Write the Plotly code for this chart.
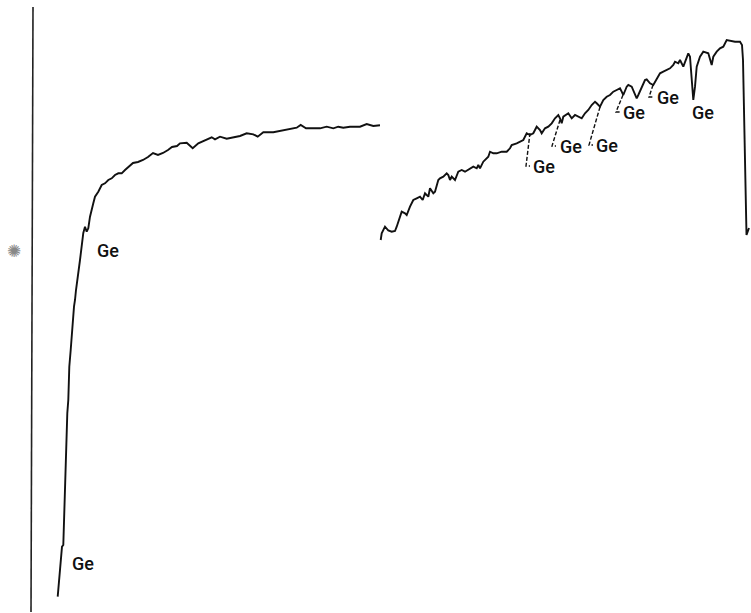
import plotly.graph_objects as go

# Spectral traces, arbitrary units (absorbance increases downward on the plot)
left_x = [57.7, 59.3, 61.0, 62.0, 63.3, 64.0, 65.0, 66.0, 67.3, 68.3, 69.3, 70.7, 71.7, 72.7,
          74.0, 75.0, 76.0, 80.0, 83.3, 85.0, 86.7, 88.3, 90.0, 93.3, 95.0, 98.3, 101.7, 105.0,
          108.3, 111.7, 115.0, 118.3, 121.7, 125.0, 128.3, 133.0, 138.0, 143.0, 148.0, 153.0,
          158.0, 163.0, 168.0, 172.0, 177.0, 180.0, 186.7, 192.7, 198.3, 211.7, 215.0, 220.0,
          226.7, 233.3, 240.0, 246.7, 253.3, 257.7, 263.3, 273.3, 280.0, 290.0, 296.7, 300.7,
          306.0, 313.3, 320.0, 326.7, 333.3, 338.3, 343.3, 350.0, 360.0, 366.7, 373.3, 380.0]
left_a = [596.7, 580.0, 563.3, 546.7, 545.0, 520.0, 486.7, 453.3, 413.3, 400.0, 366.7, 350.0,
          333.3, 320.0, 306.7, 300.0, 290.0, 260.0, 233.0, 226.7, 231.7, 228.3, 216.7, 203.3,
          196.7, 191.7, 185.0, 183.3, 180.0, 178.3, 175.0, 173.3, 173.3, 170.0, 166.7, 163.0,
          162.0, 160.0, 157.0, 153.0, 155.0, 153.0, 150.0, 147.0, 146.0, 143.3, 142.7, 148.3,
          143.3, 137.3, 139.3, 136.7, 138.7, 137.3, 136.0, 133.3, 134.3, 136.7, 132.3, 132.3,
          131.0, 129.3, 127.7, 125.0, 128.3, 128.3, 128.3, 126.7, 128.3, 126.7, 127.7, 126.7,
          126.7, 124.0, 126.0, 125.3]

right_x = [380.7, 381.7, 385.0, 388.3, 391.7, 395.0, 396.7, 400.0, 401.7, 405.0, 406.7, 410.0,
           413.3, 416.7, 420.0, 422.7, 425.0, 428.3, 430.0, 433.3, 435.0, 438.3, 440.0, 443.3,
           446.7, 448.3, 450.0, 451.7, 455.0, 458.3, 461.7, 465.0, 468.3, 473.3, 476.7, 478.3,
           480.0, 483.3, 488.3, 490.0, 493.3, 496.7, 501.7, 506.7, 510.0, 511.7, 516.7, 520.0,
           523.3, 526.7, 530.0, 533.3, 536.7, 540.0, 541.7, 545.0, 548.3, 551.7, 555.0, 558.3,
           560.0, 561.7, 563.3, 568.3, 571.7, 575.0, 578.3, 581.7, 585.0, 588.3, 591.7, 595.0,
           596.7, 600.0, 603.3, 606.7, 610.0, 613.3, 616.7, 620.0, 621.7, 623.3, 626.7, 628.3,
           631.7, 635.0, 636.7, 638.3, 641.7, 645.0, 646.7, 650.0, 653.3, 656.7, 660.0, 663.3,
           666.7, 670.0, 673.3, 675.0, 678.3, 680.0, 683.3, 686.7, 688.3, 690.0, 691.7, 693.3,
           695.0, 696.7, 700.0, 703.3, 708.3, 710.0, 711.7, 713.3, 716.7, 720.0, 723.3, 726.7,
           730.0, 735.0, 740.0, 742.0, 743.0, 746.5, 749.0]
right_a = [240.0, 233.3, 226.7, 230.5, 231.7, 231.0, 226.7, 216.7, 211.7, 213.3, 215.0, 206.7,
           200.0, 198.3, 196.7, 200.0, 193.3, 196.7, 188.3, 193.3, 191.7, 180.0, 178.3, 176.7,
           173.3, 175.0, 180.0, 176.7, 180.0, 171.7, 170.0, 171.7, 170.0, 166.7, 168.3, 165.0,
           168.3, 161.7, 156.7, 151.7, 153.3, 153.3, 151.7, 151.7, 148.3, 145.0, 143.3, 141.7,
           140.0, 133.3, 135.0, 133.3, 126.7, 130.0, 133.3, 128.3, 126.7, 123.3, 118.3, 115.0,
           118.3, 123.3, 116.7, 113.3, 118.3, 115.0, 116.7, 118.3, 113.3, 110.0, 105.0, 101.7,
           103.3, 106.7, 100.0, 96.7, 95.0, 91.7, 90.0, 88.3, 91.7, 95.0, 86.7, 85.0,
           86.7, 95.0, 98.3, 95.0, 86.7, 80.0, 79.3, 83.3, 85.0, 78.3, 73.3, 71.7,
           70.0, 68.3, 65.0, 61.7, 63.3, 60.0, 66.7, 58.3, 53.3, 56.7, 78.3, 100.0,
           86.7, 66.7, 56.7, 51.7, 53.3, 58.3, 65.0, 56.7, 51.7, 48.3, 46.7, 40.0,
           40.7, 41.7, 41.7, 45.0, 60.0, 235.0, 228.0]

# Band assignments: label text position and, where present, the leader start on the curve
label_text = ["Ge", "Ge", "Ge", "Ge", "Ge", "Ge", "Ge", "Ge"]
label_x = [97, 72, 533, 560, 596, 623, 657, 692]
label_a = [250, 563, 166, 146, 145, 112, 97, 112]
leader_top_x = [None, None, 530, 560, 600, 623, 653, None]
leader_top_a = [None, None, 133, 120, 107, 95, 85, None]
leader_foot_x = [None, None, 526, 552, 589, 616, 649, None]

axis_x = [33, 31]
axis_a = [7, 612]

W, H = 751, 613
fig = go.Figure()

fig.add_trace(go.Scatter(x=axis_x, y=axis_a, mode="lines",
                         line=dict(color="#222", width=1.6), hoverinfo="skip"))
fig.add_trace(go.Scatter(x=left_x, y=left_a, mode="lines",
                         line=dict(color="#111", width=1.9), hoverinfo="skip"))
fig.add_trace(go.Scatter(x=right_x, y=right_a, mode="lines",
                         line=dict(color="#111", width=1.9), hoverinfo="skip"))

for i, txt in enumerate(label_text):
    if leader_top_x[i] is not None:
        foot_a = label_a[i]
        fig.add_trace(go.Scatter(
            x=[leader_top_x[i], leader_foot_x[i], leader_foot_x[i] + 4],
            y=[leader_top_a[i], foot_a, foot_a],
            mode="lines", line=dict(color="#111", width=1.4, dash="4px,2px"),
            hoverinfo="skip"))
    fig.add_annotation(x=label_x[i], y=label_a[i], text=txt, showarrow=False,
                       xanchor="left", yanchor="middle", xshift=-2,
                       font=dict(family="Roboto", size=18, color="#111", weight=500))

# small mark beside the axis
fig.add_annotation(x=14, y=251, text="✺", showarrow=False, xanchor="center",
                   yanchor="middle", font=dict(family="DejaVu Sans", size=17, color="#888"))

fig.update_layout(
    width=W, height=H, margin=dict(l=0, r=0, t=0, b=0),
    paper_bgcolor="white", plot_bgcolor="white", showlegend=False,
    xaxis=dict(range=[0, W], visible=False, fixedrange=True),
    yaxis=dict(range=[H, 0], visible=False, fixedrange=True),
)

fig.write_html("out.html")
